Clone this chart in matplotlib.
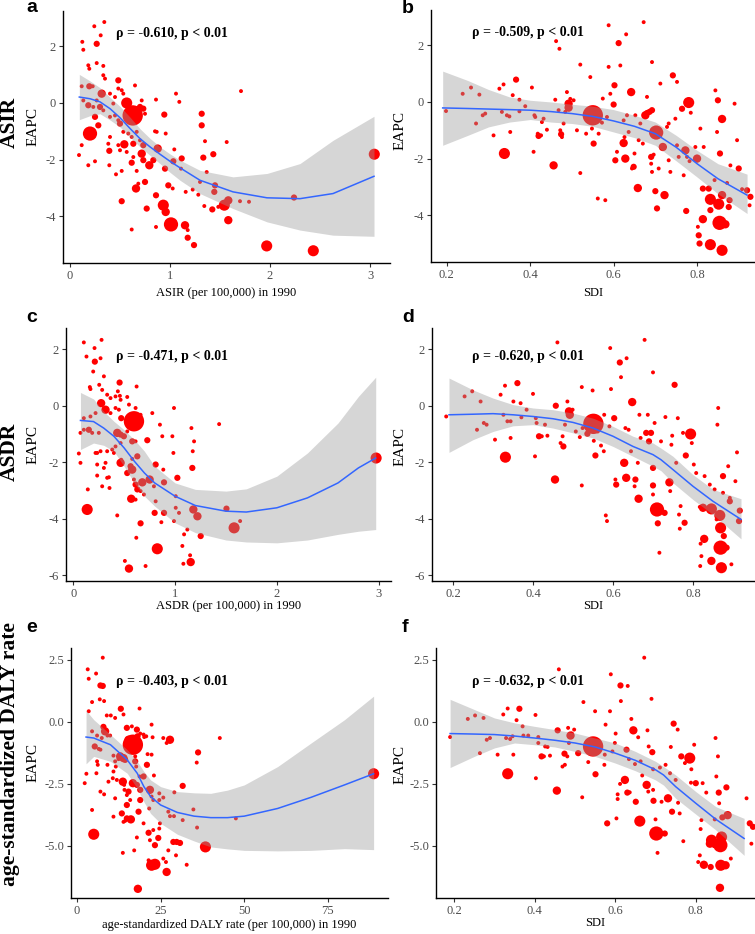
import matplotlib
matplotlib.use("Agg")
import matplotlib.pyplot as plt

# ---------------- data ----------------
# scatter points per panel: (x, EAPC, relative case-count class 1..6)
pts_a = [(0.343, 2.86, 1), (0.243, 2.71, 1), (0.123, 2.16, 1), (0.133, 1.88, 1), (0.267, 2.09, 2), (0.307, 2.39, 1),
         (0.183, 1.33, 1), (0.193, 1.21, 1), (0.267, 1.41, 1), (0.333, 1.31, 1), (0.333, 0.98, 1), (0.35, 0.86, 1),
         (0.193, 0.59, 2), (0.227, 0.59, 1), (0.317, 0.33, 3), (0.483, 0.80, 2), (0.483, 0.51, 1), (0.517, 0.45, 1),
         (0.533, 0.33, 1), (0.65, 0.62, 1), (0.40, 0.33, 1), (0.45, 0.21, 1), (0.567, 0.0, 4), (0.627, -0.44, 6),
         (0.667, -0.26, 3), (0.70, -0.14, 2), (0.733, -0.2, 2), (0.717, 0.09, 1), (0.75, -0.38, 1), (0.433, -0.02, 1),
         (0.45, -0.44, 1), (0.40, -0.49, 1), (0.483, -0.61, 1), (0.50, -0.73, 2), (0.567, -0.55, 1), (0.533, -1.02, 1),
         (0.543, -1.46, 3), (0.583, -1.08, 1), (0.617, -1.2, 1), (0.667, -1.02, 1), (0.70, -1.32, 1), (0.633, -1.44, 2),
         (0.717, -1.79, 3), (0.733, -1.49, 2), (0.733, -2.02, 2), (0.633, -1.91, 1), (0.617, -2.11, 2), (0.567, -1.73, 1),
         (0.50, -1.67, 1), (0.483, -1.49, 1), (0.40, -1.2, 1), (0.383, -1.44, 1), (0.393, -1.69, 2), (0.393, -2.2, 1),
         (0.46, -2.52, 1), (0.517, -2.4, 1), (0.667, -2.4, 1), (0.66, -3.02, 3), (0.683, -2.85, 1), (0.75, -2.79, 2),
         (0.767, -3.73, 2), (0.517, -3.47, 2), (0.617, -4.47, 1), (0.20, -1.08, 5), (0.117, -1.49, 1), (0.09, -1.84, 1),
         (0.183, -2.2, 1), (0.25, -2.06, 1), (0.283, -0.79, 2), (0.25, -0.49, 2), (0.333, -0.26, 1), (0.183, -0.08, 2),
         (0.133, 0.09, 1), (0.117, 0.59, 1), (0.30, -0.14, 2), (0.267, 0.09, 1), (0.233, -0.14, 1), (0.793, -2.2, 3),
         (0.833, -2.02, 2), (0.85, -1.0, 1), (0.867, -1.02, 1), (0.86, 0.12, 1), (0.877, -1.61, 3), (0.943, -0.41, 2),
         (0.957, -1.08, 1), (0.95, -2.32, 2), (0.983, -2.91, 2), (1.027, -3.02, 1), (1.033, -2.06, 2), (1.043, -1.64, 1),
         (1.06, 0.33, 1), (1.093, 0.04, 1), (1.117, -1.96, 2), (1.11, -2.32, 1), (0.86, -3.26, 2), (0.933, -3.61, 4),
         (0.957, -3.85, 3), (1.01, -4.29, 5), (0.86, -4.38, 1), (1.15, -4.32, 3), (1.177, -4.49, 1), (1.177, -4.76, 2),
         (1.24, -5.02, 2), (1.157, -3.14, 1), (1.227, -3.06, 1), (1.283, -3.24, 1), (1.30, -2.79, 1), (1.317, -0.38, 2),
         (1.317, -0.79, 2), (1.333, -1.93, 2), (1.35, -1.35, 1), (1.367, -2.44, 1), (1.343, -3.64, 1), (1.423, -3.76, 2),
         (1.433, -1.81, 2), (1.443, -3.14, 2), (1.45, -2.91, 2), (1.483, -3.67, 1), (1.567, -1.38, 1), (1.543, -3.61, 4),
         (1.583, -3.44, 3), (1.583, -4.14, 3), (1.71, 0.42, 1), (1.70, -3.47, 1), (1.79, -3.49, 1), (1.967, -5.05, 4),
         (2.24, -3.34, 2), (2.433, -5.22, 4), (3.043, -1.81, 4), (0.683, -0.38, 2), (0.60, -0.2, 2), (0.633, -0.61, 2),
         (0.583, -0.38, 3)]

pts_b = [(0.198, -0.32, 1), (0.238, 0.29, 1), (0.258, 0.51, 1), (0.278, 0.26, 1), (0.270, -0.76, 1), (0.286, -0.47, 1),
         (0.292, -0.41, 1), (0.312, -1.18, 1), (0.326, 0.47, 1), (0.336, 0.62, 1), (0.332, -0.35, 1), (0.344, -0.47, 1),
         (0.350, -0.51, 1), (0.352, -1.06, 1), (0.358, 0.24, 1), (0.366, 0.79, 2), (0.374, 0.08, 1), (0.374, -0.33, 1),
         (0.388, -0.15, 1), (0.404, 0.51, 1), (0.410, -0.47, 1), (0.412, -0.53, 1), (0.418, -1.12, 1), (0.42, -1.2, 2),
         (0.426, -1.18, 1), (0.428, -0.71, 1), (0.432, -0.59, 1), (0.44, -0.98, 1), (0.408, -1.76, 1), (0.338, -1.82, 4),
         (0.456, -2.24, 3), (0.46, 0.08, 1), (0.462, 2.15, 1), (0.47, 1.88, 1), (0.468, -0.29, 1), (0.472, -1.0, 1),
         (0.474, -1.14, 2), (0.476, -1.24, 1), (0.48, -0.76, 1), (0.484, -0.35, 1), (0.488, 0.35, 1), (0.492, -0.06, 3),
         (0.492, -0.2, 3), (0.496, 0.11, 1), (0.504, 0.06, 1), (0.512, -1.0, 1), (0.52, -2.51, 1), (0.52, 1.32, 1),
         (0.534, -1.12, 1), (0.544, 0.88, 1), (0.55, -0.47, 6), (0.552, -1.47, 2), (0.548, -0.94, 1), (0.56, -0.67, 1),
         (0.562, -3.41, 1), (0.564, -1.12, 1), (0.572, -0.73, 1), (0.574, 0.12, 1), (0.58, -3.47, 1), (0.584, -0.53, 1),
         (0.588, 2.71, 1), (0.588, 1.24, 1), (0.592, 0.29, 1), (0.60, -0.09, 2), (0.602, 0.59, 2), (0.604, -2.06, 2),
         (0.608, -1.76, 1), (0.612, 2.08, 2), (0.616, 1.29, 1), (0.624, -1.45, 3), (0.626, -1.24, 1), (0.63, 2.39, 1),
         (0.624, -0.65, 1), (0.628, -2.0, 3), (0.632, -0.47, 1), (0.636, -1.06, 1), (0.642, 0.35, 3), (0.644, -2.35, 1),
         (0.648, -2.29, 2), (0.65, -1.82, 1), (0.652, -0.47, 1), (0.658, -3.04, 3), (0.66, -1.35, 1), (0.664, -0.76, 1),
         (0.67, -1.47, 1), (0.672, 2.82, 1), (0.676, -0.47, 3), (0.68, 0.18, 1), (0.68, -0.39, 2), (0.686, -0.35, 2),
         (0.692, 1.41, 1), (0.69, -1.94, 2), (0.692, -2.47, 1), (0.69, -2.18, 1), (0.692, -0.29, 2), (0.696, -1.86, 1),
         (0.702, -1.08, 5), (0.70, -3.15, 2), (0.704, -3.76, 2), (0.708, -2.35, 1), (0.712, 0.65, 1), (0.718, -1.59, 3),
         (0.722, -3.29, 3), (0.728, -0.88, 1), (0.732, -0.76, 1), (0.732, -2.06, 1), (0.736, -2.47, 1), (0.742, 0.94, 2),
         (0.748, -0.59, 1), (0.752, 0.71, 1), (0.752, -1.53, 1), (0.756, -1.94, 1), (0.764, -0.24, 2), (0.768, -2.59, 1),
         (0.772, -1.71, 3), (0.774, -3.85, 2), (0.776, -1.94, 1), (0.78, -0.02, 4), (0.782, -2.09, 1), (0.785, -0.38, 1),
         (0.796, -1.59, 1), (0.80, -2.0, 3), (0.808, -0.94, 1), (0.814, -3.06, 2), (0.816, -1.59, 1), (0.814, -4.14, 3),
         (0.802, -4.41, 1), (0.804, -4.71, 2), (0.806, -5.0, 2), (0.828, -3.06, 2), (0.832, -3.44, 4), (0.832, -3.82, 2),
         (0.832, -5.04, 4), (0.842, -2.76, 1), (0.844, 0.41, 1), (0.85, 0.06, 2), (0.848, -1.06, 1), (0.852, -3.61, 4),
         (0.854, -4.27, 5), (0.855, -1.82, 2), (0.86, -0.6, 3), (0.86, -5.24, 4), (0.86, -3.29, 3), (0.868, -4.32, 3),
         (0.872, -2.86, 1), (0.878, -3.47, 2), (0.88, -2.24, 1), (0.89, -0.06, 1), (0.896, -1.35, 1), (0.90, -2.35, 2),
         (0.908, -3.08, 1), (0.92, -3.12, 2), (0.926, -3.65, 1), (0.928, -3.35, 2), (0.876, -3.71, 2)]

pts_c = [(0.105, 2.24, 1), (0.21, 2.04, 1), (0.279, 2.33, 1), (0.131, 1.74, 1), (0.213, 1.56, 2), (0.269, 1.68, 1),
         (0.197, 1.21, 1), (0.302, 1.04, 1), (0.164, 0.66, 1), (0.256, 0.74, 1), (0.17, 0.59, 1), (0.285, 0.56, 1),
         (0.275, 0.09, 3), (0.318, -0.14, 3), (0.334, 0.39, 1), (0.367, 0.27, 1), (0.416, 0.33, 1), (0.456, 0.82, 2),
         (0.439, 0.51, 1), (0.459, 0.35, 1), (0.466, 0.21, 1), (0.531, 0.31, 1), (0.548, 0.04, 1), (0.623, 0.68, 1),
         (0.613, -0.08, 1), (0.597, -0.55, 6), (0.564, -0.49, 3), (0.63, -0.38, 2), (0.646, -0.61, 2), (0.662, -0.32, 1),
         (0.472, -0.44, 2), (0.449, -0.14, 1), (0.416, -0.08, 1), (0.367, -0.26, 1), (0.433, -0.96, 3), (0.466, -1.02, 2),
         (0.498, -1.08, 2), (0.531, -0.91, 1), (0.58, -1.26, 2), (0.613, -1.26, 1), (0.728, -1.22, 2), (0.777, -0.26, 1),
         (0.852, -0.67, 1), (0.875, -1.08, 1), (0.974, -1.08, 1), (0.99, -0.08, 1), (0.984, -1.67, 1), (1.161, -0.79, 1),
         (1.187, -1.26, 1), (1.174, -1.61, 1), (1.17, -2.2, 2), (0.466, -2.02, 3), (0.564, -2.14, 2), (0.58, -2.26, 3),
         (0.597, -2.61, 1), (0.613, -2.79, 2), (0.63, -2.96, 2), (0.679, -2.71, 3), (0.662, -3.02, 1), (0.751, -2.61, 3),
         (0.81, -2.08, 2), (0.892, -2.71, 2), (0.885, -2.26, 1), (0.793, -2.85, 1), (0.695, -3.14, 1), (0.892, -3.79, 2),
         (0.80, -3.79, 2), (0.662, -4.16, 2), (0.866, -4.12, 1), (1.023, -2.55, 2), (1.007, -3.61, 1), (0.99, -4.08, 1),
         (0.81, -3.38, 1), (0.613, -3.32, 1), (0.57, -3.29, 3), (1.039, -3.79, 1), (1.089, -4.55, 1), (1.072, -4.96, 1),
         (1.121, -4.38, 1), (1.148, -5.29, 1), (1.154, -5.53, 3), (1.252, -4.61, 2), (1.082, -5.59, 1), (0.826, -5.06, 4),
         (0.548, -5.76, 3), (0.508, -5.49, 1), (0.711, -5.67, 1), (0.62, -4.67, 1), (0.433, -3.88, 1), (0.351, -2.53, 1),
         (0.357, -2.91, 1), (0.334, -2.55, 1), (0.236, -2.47, 1), (0.285, -2.85, 1), (0.236, -1.67, 1), (0.236, -2.08, 1),
         (0.269, -1.61, 1), (0.252, -0.96, 1), (0.187, -0.96, 1), (0.154, -0.85, 2), (0.105, -0.85, 1), (0.056, -1.69, 1),
         (0.072, -2.02, 1), (0.144, -2.96, 1), (0.138, -3.67, 4), (0.22, -1.67, 1), (0.334, -1.61, 1), (0.384, -1.55, 1),
         (0.416, -1.44, 1), (0.466, -1.32, 1), (0.302, -2.2, 1), (0.318, -2.02, 1), (0.40, -1.67, 1), (0.072, -0.96, 1),
         (1.007, -3.2, 1), (1.18, -3.67, 3), (1.22, -3.91, 3), (1.505, -3.64, 2), (1.58, -4.32, 4), (1.639, -4.08, 1),
         (1.433, -0.65, 1), (2.974, -1.85, 4), (0.105, -0.44, 1), (0.17, -0.38, 1), (0.22, -0.26, 1), (0.472, -1.91, 1),
         (0.531, -2.38, 2), (0.58, -1.88, 1), (0.63, -1.79, 2)]

pts_d = [(0.183, -0.38, 1), (0.229, 0.33, 1), (0.248, 0.51, 1), (0.269, 0.15, 1), (0.26, -0.85, 1), (0.277, -0.61, 1),
         (0.284, -0.67, 1), (0.305, -1.2, 1), (0.319, 0.39, 1), (0.33, 0.71, 1), (0.326, -0.32, 1), (0.336, -0.55, 1),
         (0.344, -0.55, 1), (0.344, -1.14, 1), (0.351, 0.15, 1), (0.361, 0.8, 2), (0.369, 0.09, 1), (0.371, -0.41, 1),
         (0.384, -0.14, 1), (0.40, 0.42, 1), (0.407, -0.44, 1), (0.409, -0.61, 1), (0.415, -1.08, 2), (0.422, -1.08, 1),
         (0.43, -0.67, 1), (0.436, -1.06, 1), (0.405, -1.79, 1), (0.331, -1.82, 4), (0.457, 0.0, 2), (0.455, -2.61, 3),
         (0.461, 2.24, 1), (0.469, -1.32, 1), (0.474, -1.08, 1), (0.476, -1.44, 2), (0.48, -0.67, 1), (0.486, 0.15, 1),
         (0.49, -0.2, 3), (0.492, -0.32, 3), (0.499, -0.14, 1), (0.507, -0.91, 1), (0.517, -1.11, 1), (0.522, -2.82, 1),
         (0.522, 0.66, 1), (0.524, -0.79, 1), (0.536, -0.99, 2), (0.549, 0.54, 1), (0.551, -0.64, 6), (0.556, -1.76, 2),
         (0.552, -1.24, 1), (0.562, -0.91, 1), (0.57, -1.41, 1), (0.577, -1.61, 1), (0.578, -0.32, 1), (0.582, -3.88, 1),
         (0.585, -4.08, 1), (0.591, -0.73, 1), (0.593, 2.04, 1), (0.595, 0.59, 1), (0.603, -0.44, 2), (0.606, -2.61, 1),
         (0.608, -2.79, 2), (0.617, 1.53, 2), (0.62, 1.01, 1), (0.628, -2.02, 3), (0.634, 1.68, 1), (0.631, -0.79, 1),
         (0.633, -2.55, 3), (0.639, -0.85, 1), (0.645, -1.61, 1), (0.648, 0.13, 3), (0.654, -2.85, 1), (0.656, -2.61, 2),
         (0.662, -2.02, 1), (0.664, -3.29, 3), (0.666, -0.32, 1), (0.669, -1.14, 1), (0.679, 2.33, 1), (0.683, -0.96, 2),
         (0.687, -0.32, 1), (0.69, -1.26, 2), (0.695, -0.96, 2), (0.70, -2.82, 2), (0.70, 1.18, 1), (0.70, -3.14, 1),
         (0.70, -2.2, 2), (0.704, -0.61, 1), (0.71, -3.67, 5), (0.712, -4.16, 2), (0.716, -5.2, 1), (0.72, -1.26, 1),
         (0.729, -3.79, 2), (0.731, -0.4, 1), (0.741, -2.71, 3), (0.743, -3.02, 1), (0.746, -1.38, 1), (0.748, -1.06, 1),
         (0.754, 0.74, 2), (0.758, -2.02, 1), (0.762, -0.44, 1), (0.765, -3.85, 1), (0.767, -4.35, 1), (0.769, -3.55, 1),
         (0.775, -0.96, 1), (0.779, -4.14, 2), (0.782, -1.76, 2), (0.787, -0.96, 1), (0.794, -1.0, 4), (0.797, -1.32, 1),
         (0.802, -2.08, 1), (0.808, -2.38, 1), (0.817, -3.58, 1), (0.819, -4.88, 1), (0.821, -5.32, 1), (0.818, -5.67, 1),
         (0.828, -4.71, 3), (0.829, -2.49, 1), (0.825, -3.61, 3), (0.842, -2.79, 1), (0.846, -3.65, 4), (0.846, -5.49, 3),
         (0.854, -2.96, 1), (0.859, -4.02, 1), (0.863, -0.08, 1), (0.861, -0.67, 1), (0.867, -3.88, 4), (0.869, -4.32, 4),
         (0.869, -5.02, 5), (0.871, -5.73, 4), (0.875, -2.49, 2), (0.875, -3.08, 1), (0.877, -4.61, 2), (0.884, -5.02, 2),
         (0.888, -2.14, 1), (0.892, -3.26, 1), (0.892, -3.38, 2), (0.896, -5.61, 1), (0.906, -2.67, 1), (0.91, -1.65, 1),
         (0.915, -4.08, 2), (0.917, -3.71, 2)]

pts_e = [(3.2, 2.12, 1), (3.5, 1.74, 1), (5.7, 1.95, 1), (7.7, 2.59, 1), (4.5, 0.8, 1), (3.5, 0.43, 1), (6.8, 0.91, 1),
         (8.1, 0.84, 1), (7.0, 1.47, 2), (7.7, 1.45, 2), (13.1, 0.53, 2), (8.9, 0.26, 1), (10.1, 0.26, 1), (11.4, 0.16, 1),
         (13.9, 0.3, 1), (14.9, -0.24, 2), (18.7, 0.54, 1), (16.4, -0.18, 1), (16.7, -0.92, 6), (15.4, -0.72, 3),
         (18.1, -0.58, 2), (17.9, -0.31, 2), (18.9, -0.47, 1), (19.9, -0.51, 1), (20.1, -0.61, 1), (20.7, -0.58, 1),
         (22.3, -0.11, 1), (22.6, -0.62, 1), (4.5, -0.38, 1), (6.0, -0.55, 1), (7.4, -0.65, 1), (8.4, -0.38, 3),
         (7.9, -0.2, 2), (9.1, -0.55, 1), (9.9, -0.55, 1), (5.3, -0.99, 2), (6.5, -1.09, 1), (7.0, -1.12, 1),
         (6.0, -1.59, 1), (6.2, -1.73, 1), (5.8, -2.07, 1), (7.0, -2.81, 1), (8.1, -2.92, 1), (9.4, -2.41, 1),
         (9.1, -1.73, 1), (10.9, -1.36, 1), (11.4, -1.59, 1), (11.6, -1.8, 1), (12.4, -1.5, 1), (10.9, -2.0, 1),
         (10.7, -2.27, 1), (11.9, -2.34, 1), (12.9, -1.39, 3), (13.9, -1.46, 3), (14.4, -1.53, 2), (13.7, -2.41, 3),
         (14.1, -2.54, 1), (14.9, -2.95, 1), (14.2, -2.74, 1), (16.7, -2.47, 3), (17.4, -1.39, 1), (17.7, -1.8, 1),
         (17.9, -2.54, 2), (17.4, -1.59, 2), (18.7, -2.2, 1), (18.9, -2.74, 2), (18.9, -3.15, 2), (19.9, -2.2, 2),
         (20.9, -1.73, 2), (21.1, -1.3, 1), (21.8, -2.74, 3), (22.3, -3.01, 1), (22.8, -3.15, 1), (23.0, -2.16, 1),
         (24.6, -2.88, 1), (24.6, -3.15, 1), (25.8, -3.05, 1), (27.3, -3.62, 1), (27.8, -3.8, 1), (22.3, -1.32, 1),
         (25.8, -0.65, 1), (26.8, -0.85, 1), (27.8, -0.72, 3), (29.1, -2.84, 1), (29.0, -3.8, 1), (31.6, -2.58, 2),
         (31.6, -3.96, 1), (35.8, -1.64, 1), (36.2, -1.23, 2), (35.9, -4.26, 1), (42.7, -0.65, 1), (47.5, -3.89, 1),
         (2.3, -2.47, 1), (2.8, -2.09, 1), (4.5, -3.55, 1), (5.0, -4.53, 4), (10.9, -3.82, 1), (13.4, -3.69, 2),
         (13.9, -4.03, 1), (14.4, -3.99, 1), (13.7, -5.28, 1), (16.1, -3.93, 3), (17.1, -5.18, 1), (17.9, -4.66, 1),
         (18.2, -6.73, 3), (21.4, -4.47, 2), (21.8, -4.77, 1), (22.8, -4.36, 1), (23.3, -4.97, 2), (24.3, -4.68, 2),
         (24.6, -4.3, 1), (24.8, -4.09, 1), (25.8, -5.51, 1), (26.6, -5.65, 1), (26.8, -6.05, 3), (27.3, -5.18, 1),
         (28.8, -4.84, 2), (29.8, -4.84, 2), (30.8, -4.88, 2), (22.3, -5.78, 4), (23.3, -5.74, 4), (21.4, -5.58, 1),
         (29.6, -5.38, 1), (32.8, -5.76, 1), (38.4, -5.04, 4), (88.7, -2.09, 4), (14.9, -3.89, 2), (19.9, -4.09, 1),
         (21.6, -3.49, 1), (14.9, -3.35, 2), (15.9, -3.15, 1), (11.4, -3.08, 1), (16.9, -2.47, 1), (18.4, -3.62, 2),
         (34.8, -3.53, 1), (15.4, -2.81, 2)]

pts_f = [(0.19, -0.61, 1), (0.234, 0.12, 1), (0.252, 0.26, 1), (0.273, 0.16, 1), (0.264, -1.26, 1), (0.281, -0.72, 1),
         (0.289, -0.65, 1), (0.308, -1.32, 1), (0.322, 0.3, 1), (0.333, 0.54, 1), (0.329, -0.65, 1), (0.339, -0.69, 1),
         (0.345, -0.58, 1), (0.347, -1.32, 1), (0.355, 0.07, 1), (0.362, 0.53, 2), (0.37, -0.18, 1), (0.372, -0.55, 1),
         (0.384, -0.55, 1), (0.402, 0.28, 1), (0.409, -0.61, 1), (0.409, -0.85, 1), (0.417, -1.39, 2), (0.423, -1.39, 1),
         (0.426, -0.99, 1), (0.432, -1.01, 1), (0.438, -1.36, 1), (0.403, -2.27, 1), (0.333, -2.09, 4), (0.457, -0.34, 2),
         (0.455, -2.77, 3), (0.46, 2.12, 1), (0.469, -1.8, 1), (0.474, -1.28, 2), (0.475, -1.73, 1), (0.481, -1.39, 1),
         (0.485, -0.85, 1), (0.483, -0.24, 1), (0.489, -0.55, 3), (0.492, -0.47, 1), (0.498, -0.31, 1), (0.508, -1.26, 2),
         (0.518, -3.04, 1), (0.521, 0.8, 1), (0.526, -1.01, 1), (0.533, -1.62, 1), (0.545, -0.99, 6), (0.55, 0.43, 1),
         (0.551, -2.11, 2), (0.554, -0.85, 1), (0.56, -0.99, 1), (0.573, -1.73, 1), (0.574, -1.32, 1), (0.576, -0.11, 1),
         (0.58, -4.09, 2), (0.587, 0.43, 1), (0.589, 1.92, 1), (0.593, -1.19, 1), (0.599, -0.85, 1), (0.601, -0.47, 1),
         (0.603, -3.89, 1), (0.606, -2.92, 1), (0.606, -3.11, 1), (0.612, -2.5, 1), (0.613, 1.47, 2), (0.614, 0.84, 1),
         (0.624, -2.34, 3), (0.628, -1.12, 2), (0.63, -2.85, 2), (0.631, 1.45, 1), (0.634, -1.5, 1), (0.636, -2.84, 1),
         (0.64, 0.12, 1), (0.645, -0.34, 3), (0.649, -1.7, 1), (0.651, -3.22, 2), (0.657, -0.62, 1), (0.661, -4.0, 4),
         (0.663, -1.59, 1), (0.667, -2.16, 1), (0.672, 2.59, 1), (0.678, -2.54, 3), (0.68, -0.34, 1), (0.682, -2.81, 1),
         (0.683, -0.99, 1), (0.69, 0.93, 1), (0.692, -1.22, 2), (0.694, -2.74, 1), (0.695, -3.18, 2), (0.694, -1.91, 1),
         (0.70, -3.93, 1), (0.702, -4.5, 5), (0.705, -5.28, 1), (0.711, -1.84, 1), (0.715, -3.22, 1), (0.723, -4.5, 2),
         (0.725, -1.73, 1), (0.731, -3.08, 3), (0.736, -2.07, 1), (0.738, -1.01, 1), (0.741, -3.62, 2), (0.745, -0.07, 2),
         (0.75, -2.34, 1), (0.755, -0.31, 1), (0.756, -3.26, 1), (0.76, -3.69, 1), (0.764, -1.39, 2), (0.769, -4.81, 1),
         (0.773, -1.66, 1), (0.785, -1.46, 4), (0.788, -2.45, 1), (0.789, -1.91, 1), (0.796, -0.92, 1), (0.80, -2.47, 2),
         (0.806, -5.65, 1), (0.81, -5.38, 1), (0.812, -4.32, 1), (0.814, -3.96, 1), (0.817, -2.47, 1), (0.82, -5.76, 3),
         (0.826, -2.85, 1), (0.837, -5.85, 2), (0.835, -4.91, 3), (0.839, -4.77, 4), (0.845, -5.01, 1), (0.847, -3.93, 1),
         (0.849, -0.65, 1), (0.855, -1.39, 1), (0.857, -2.85, 2), (0.858, -3.28, 1), (0.861, -4.97, 5), (0.864, -4.64, 4),
         (0.862, -5.78, 4), (0.86, -6.69, 3), (0.866, -3.85, 2), (0.874, -5.78, 3), (0.876, -2.64, 2), (0.879, -3.76, 3),
         (0.887, -5.51, 1), (0.926, -3.08, 1), (0.934, -4.09, 2), (0.942, -4.23, 2), (0.938, -4.91, 1), (0.851, -2.2, 1)]

# loess fit and 95% band
fx_a = [0.093, 0.2, 0.3, 0.4, 0.5, 0.6, 0.7, 0.8, 0.9, 1.0, 1.1, 1.3, 1.63, 1.97, 2.3, 2.63, 3.04]
fit_a = [0.21, 0.15, 0.04, -0.2, -0.52, -0.9, -1.26, -1.55, -1.81, -2.06, -2.29, -2.73, -3.14, -3.35, -3.38, -3.2, -2.59]
lo_a = [-0.59, -0.45, -0.38, -0.6, -0.85, -1.2, -1.55, -1.85, -2.14, -2.45, -2.73, -3.2, -3.73, -4.2, -4.49, -4.67, -4.71]
hi_a = [1.01, 0.78, 0.54, 0.2, -0.12, -0.5, -0.91, -1.25, -1.55, -1.8, -2.02, -2.38, -2.61, -2.49, -2.14, -1.32, -0.47]

fx_b = [0.19, 0.25, 0.3, 0.35, 0.4, 0.45, 0.5, 0.55, 0.6, 0.65, 0.7, 0.75, 0.8, 0.85, 0.92]
fit_b = [-0.21, -0.23, -0.25, -0.27, -0.29, -0.34, -0.41, -0.51, -0.67, -0.86, -1.12, -1.6, -2.18, -2.71, -3.29]
lo_b = [-1.53, -1.18, -0.88, -0.71, -0.62, -0.71, -0.76, -0.86, -1.06, -1.26, -1.53, -2.08, -2.65, -3.24, -3.94]
hi_b = [1.09, 0.76, 0.44, 0.18, 0.06, 0.0, -0.08, -0.15, -0.27, -0.47, -0.71, -1.18, -1.71, -2.18, -2.55]

fx_c = [0.072, 0.2, 0.3, 0.4, 0.5, 0.6, 0.7, 0.8, 1.0, 1.2, 1.5, 1.7, 2.0, 2.3, 2.6, 2.8, 2.97]
fit_c = [-0.52, -0.56, -0.79, -1.08, -1.49, -1.96, -2.38, -2.73, -3.2, -3.53, -3.73, -3.76, -3.61, -3.26, -2.73, -2.2, -1.85]
lo_c = [-1.55, -1.32, -1.4, -1.61, -2.14, -2.73, -3.2, -3.55, -4.14, -4.49, -4.75, -4.82, -4.85, -4.75, -4.55, -4.44, -4.38]
hi_c = [0.47, 0.24, -0.2, -0.55, -0.85, -1.2, -1.61, -2.14, -2.73, -2.96, -3.02, -2.94, -2.49, -1.67, -0.61, 0.33, 1.01]

fx_d = [0.19, 0.25, 0.3, 0.35, 0.4, 0.45, 0.5, 0.55, 0.6, 0.65, 0.7, 0.72, 0.75, 0.8, 0.85, 0.92]
fit_d = [-0.32, -0.3, -0.28, -0.32, -0.38, -0.46, -0.59, -0.79, -1.08, -1.44, -1.73, -1.91, -2.26, -2.85, -3.38, -4.02]
lo_d = [-1.65, -1.2, -0.91, -0.71, -0.67, -0.79, -0.96, -1.14, -1.44, -1.79, -2.14, -2.3, -2.73, -3.32, -3.85, -4.71]
hi_d = [0.98, 0.56, 0.27, 0.04, -0.08, -0.14, -0.26, -0.44, -0.73, -1.08, -1.32, -1.5, -1.79, -2.44, -2.96, -3.29]

fx_e = [2.7, 5, 10, 15, 18, 20, 22, 25, 30, 35, 40, 45, 50, 60, 70, 80, 88.7]
fit_e = [-0.61, -0.65, -0.92, -1.53, -2.07, -2.61, -3.01, -3.35, -3.65, -3.8, -3.86, -3.86, -3.8, -3.49, -3.04, -2.54, -2.09]
lo_e = [-1.69, -1.39, -1.59, -2.07, -2.68, -3.22, -3.69, -4.09, -4.53, -4.8, -5.04, -5.12, -5.18, -5.2, -5.18, -5.11, -5.15]
hi_e = [0.46, 0.09, -0.51, -1.12, -1.59, -2.0, -2.34, -2.61, -2.81, -2.86, -2.88, -2.75, -2.54, -1.8, -0.85, 0.09, 1.04]

fx_f = [0.19, 0.25, 0.3, 0.35, 0.4, 0.45, 0.5, 0.55, 0.6, 0.65, 0.7, 0.72, 0.75, 0.8, 0.85, 0.92]
fit_f = [-0.47, -0.49, -0.51, -0.57, -0.65, -0.74, -0.85, -1.01, -1.26, -1.55, -1.93, -2.14, -2.61, -3.28, -3.93, -4.7]
lo_f = [-1.84, -1.39, -1.05, -0.85, -0.92, -1.01, -1.19, -1.39, -1.66, -1.97, -2.34, -2.55, -3.08, -3.72, -4.36, -5.38]
hi_f = [0.91, 0.5, 0.16, -0.04, -0.18, -0.31, -0.45, -0.65, -0.85, -1.19, -1.59, -1.8, -2.14, -2.81, -3.42, -3.89]

rho_labels = ["ρ = -0.610, p < 0.01", "ρ = -0.509, p < 0.01", "ρ = -0.471, p < 0.01",
              "ρ = -0.620, p < 0.01", "ρ = -0.403, p < 0.01", "ρ = -0.632, p < 0.01"]
x_titles = ["ASIR (per 100,000) in 1990", "SDI", "ASDR (per 100,000) in 1990", "SDI",
            "age-standardized DALY rate (per 100,000) in 1990", "SDI"]
row_titles = ["ASIR", "ASDR", "age-standardized DALY rate"]

# ---------------- drawing ----------------
W, H = 755, 934
plt.rcParams["font.family"] = ["Liberation Serif", "DejaVu Serif"]
fig = plt.figure(figsize=(W / 100, H / 100), dpi=100)

area = {1: 8, 2: 20, 3: 36, 4: 64, 5: 105, 6: 215}


def panel(box, pts, fx, fit, lo, hi, xlim, ylim, xticks, yticks, yfmt, xtitle, rho, rho_xy, letter, letter_xy,
          xlab_y, ylab_xy):
    l, r, t, b = box
    ax = fig.add_axes([l / W, 1 - b / H, (r - l) / W, (b - t) / H])
    ax.scatter([p[0] for p in pts], [p[1] for p in pts], s=[area[p[2]] for p in pts],
               color="#FF0000", linewidths=0, zorder=2, clip_on=False)
    ax.fill_between(fx, lo, hi, color="#999999", alpha=0.4, linewidth=0, zorder=3)
    ax.plot(fx, fit, color="#3366FF", lw=1.1, zorder=4)
    ax.set_xlim(*xlim)
    ax.set_ylim(*ylim)
    ax.set_xticks(xticks)
    ax.set_yticks(yticks)
    ax.set_yticklabels([yfmt.format(v) for v in yticks])
    for s in ["top", "right"]:
        ax.spines[s].set_visible(False)
    for s in ["left", "bottom"]:
        ax.spines[s].set_linewidth(1.0)
        ax.spines[s].set_color("black")
    ax.tick_params(direction="out", length=3, width=0.8, color="#333333", labelcolor="#4D4D4D",
                   labelsize=9, pad=2)
    ax.set_xlabel(xtitle, fontsize=9)
    ax.xaxis.set_label_coords(0.5, (b - xlab_y) / (b - t))
    ax.xaxis.label.set_va("center")
    ax.set_ylabel("EAPC", fontsize=11)
    ax.yaxis.set_label_coords((ylab_xy[0] - l) / (r - l), (b - ylab_xy[1]) / (b - t))
    ax.yaxis.label.set_va("center")
    ax.text(rho_xy[0], rho_xy[1], rho, fontsize=10, fontweight="bold", ha="center", va="center", zorder=5)
    fig.text(letter_xy[0] / W, 1 - letter_xy[1] / H, letter, fontsize=14, fontweight="bold",
             family="Liberation Sans", ha="left", va="baseline")
    return ax


panel((63, 390, 10.7, 263.2), pts_a, fx_a, fit_a, lo_a, hi_a, (-0.07, 3.2), (-5.66, 3.26),
      [0, 1, 2, 3], [-4, -2, 0, 2], "{:g}", x_titles[0], rho_labels[0], (1.02, 2.44), "a", (26, 12), 293, (33, 126))
panel((431, 755, 9.7, 262.2), pts_b, fx_b, fit_b, lo_b, hi_b, (0.162, 0.939), (-5.66, 3.26),
      [0.2, 0.4, 0.6, 0.8], [-4, -2, 0, 2], "{:g}", x_titles[1], rho_labels[1], (0.394, 2.44), "b", (402, 13), 293, (400, 130))
panel((66, 391, 328, 581), pts_c, fx_c, fit_c, lo_c, hi_c, (-0.07, 3.12), (-6.2, 2.75),
      [0, 1, 2, 3], [-6, -4, -2, 0, 2], "{:g}", x_titles[2], rho_labels[2], (0.97, 1.73), "c", (26, 322), 606, (33, 444))
panel((432, 755, 328, 581), pts_d, fx_d, fit_d, lo_d, hi_d, (0.1475, 0.955), (-6.2, 2.75),
      [0.2, 0.4, 0.6, 0.8], [-6, -4, -2, 0, 2], "{:g}", x_titles[3], rho_labels[3], (0.3875, 1.73), "d", (402, 322), 606, (400, 447))
panel((71, 388, 648, 898), pts_e, fx_e, fit_e, lo_e, hi_e, (-1.8, 93), (-7.1, 2.98),
      [0, 25, 50, 75], [-5.0, -2.5, 0.0, 2.5], "{:.1f}", x_titles[4], rho_labels[4], (28.4, 1.61), "e", (26, 632), 925, (33, 762))
panel((436, 755, 648, 898), pts_f, fx_f, fit_f, lo_f, hi_f, (0.155, 0.947), (-7.1, 2.98),
      [0.2, 0.4, 0.6, 0.8], [-5.0, -2.5, 0.0, 2.5], "{:.1f}", x_titles[5], rho_labels[5], (0.384, 1.61), "f", (402, 632), 923, (400, 764))

for title, yc in zip(row_titles, [122, 452, 754]):
    fig.text(10 / W, 1 - yc / H, title, rotation=90, fontsize=15.5, fontweight="bold", ha="center", va="center")

fig.savefig("out.png", dpi=100)
